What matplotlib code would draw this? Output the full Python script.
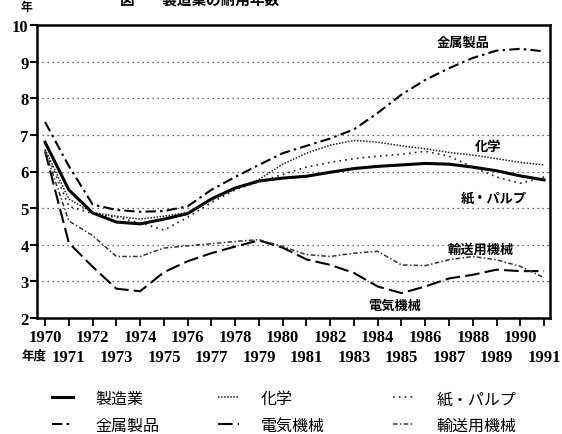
import matplotlib
matplotlib.use("Agg")
import matplotlib.pyplot as plt
from matplotlib.lines import Line2D
from matplotlib.ticker import FixedLocator, FixedFormatter

plt.rcParams['font.family'] = ['Noto Sans CJK JP', 'DejaVu Sans']

years = list(range(1970, 1992))
seizo = [6.8, 5.5, 4.87, 4.62, 4.57, 4.7, 4.85, 5.25, 5.55, 5.74, 5.82, 5.87, 5.98, 6.08, 6.14, 6.18, 6.22, 6.2, 6.12, 6.02, 5.88, 5.77]
kagaku = [6.6, 5.25, 4.88, 4.78, 4.7, 4.78, 4.88, 5.22, 5.52, 5.78, 6.2, 6.5, 6.72, 6.85, 6.8, 6.7, 6.62, 6.52, 6.45, 6.35, 6.25, 6.18]
kami = [6.6, 5.05, 4.85, 4.75, 4.6, 4.4, 4.75, 5.15, 5.5, 5.72, 5.92, 6.12, 6.25, 6.35, 6.42, 6.47, 6.55, 6.42, 6.12, 5.85, 5.68, 5.85]
kinzoku = [7.35, 6.15, 5.1, 4.95, 4.9, 4.92, 5.05, 5.5, 5.85, 6.18, 6.5, 6.7, 6.9, 7.15, 7.6, 8.1, 8.5, 8.82, 9.1, 9.3, 9.35, 9.28]
denki = [6.55, 4.05, 3.4, 2.8, 2.73, 3.25, 3.55, 3.77, 3.95, 4.12, 3.92, 3.6, 3.45, 3.23, 2.86, 2.68, 2.86, 3.08, 3.18, 3.32, 3.28, 3.28]
yuso = [6.55, 4.65, 4.25, 3.68, 3.68, 3.91, 3.97, 4.03, 4.09, 4.14, 3.95, 3.73, 3.68, 3.77, 3.82, 3.45, 3.43, 3.59, 3.68, 3.59, 3.41, 3.1]

names = ['製造業', '化学', '紙・パルプ', '金属製品', '電気機械', '輸送用機械']
series = [seizo, kagaku, kami, kinzoku, denki, yuso]
styles = [
    dict(color='black', lw=2.2, ls='-'),
    dict(color='#222222', lw=1.1, ls=(0, (1, 1))),
    dict(color='#222222', lw=1.2, ls=(0, (1, 2.5))),
    dict(color='black', lw=1.5, ls=(0, (5, 2, 1.2, 2))),
    dict(color='black', lw=1.5, ls=(0, (7, 2.5))),
    dict(color='#333333', lw=1.1, ls=(0, (3, 1.5, 1, 1.5))),
]

inline_labels = ['金属製品', '化学', '紙・パルプ', '輸送用機械', '電気機械']
inline_x = [1987.6, 1988.65, 1988.9, 1988.35, 1984.7]
inline_y = [9.55, 6.7, 5.3, 3.9, 2.36]

W, H = 562, 435
fig = plt.figure(figsize=(W / 100, H / 100), dpi=100)
ax = fig.add_axes([37 / W, 1 - 319 / H, (550 - 37) / W, (319 - 26) / H])

for s, st in zip(series, styles):
    ax.plot(years, s, **st)

ax.set_xlim(1969.66, 1991.25)
ax.set_ylim(2, 10)

for g in range(3, 10):
    ax.axhline(g, color='#333333', lw=0.9, ls=(0, (1, 3)), zorder=0)

for sp in ax.spines.values():
    sp.set_linewidth(1.8)

numfam = ['Liberation Serif', 'DejaVu Serif']

ax.set_yticks(range(2, 11))
ax.set_yticklabels([str(v) for v in range(2, 11)], family=numfam, weight='bold', size=12)
ax.tick_params(axis='y', direction='out', length=5, width=1.5, pad=1)

even = [y for y in years if y % 2 == 0]
odd = [y for y in years if y % 2 == 1]
ax.xaxis.set_major_locator(FixedLocator(even))
ax.xaxis.set_major_formatter(FixedFormatter([str(y) for y in even]))
ax.xaxis.set_minor_locator(FixedLocator(odd))
ax.xaxis.set_minor_formatter(FixedFormatter([str(y) for y in odd]))
ax.tick_params(axis='x', which='both', direction='out', length=6, width=1.3)
ax.tick_params(axis='x', which='major', pad=2)
ax.tick_params(axis='x', which='minor', pad=16)
for lab in ax.get_xticklabels(which='both'):
    lab.set_fontfamily(numfam)
    lab.set_fontweight('bold')
    lab.set_fontsize(12)

for t, x, y in zip(inline_labels, inline_x, inline_y):
    ax.text(x, y, t, ha='center', va='center', fontsize=9.5, fontweight='bold')

fig.text(34 / W, 1 - 356 / H, '年度', ha='center', va='center', fontsize=9, fontweight='bold')
fig.text(26 / W, 1 - 7 / H, '年', ha='center', va='center', fontsize=8.5, fontweight='bold')
fig.text(200 / W, 1 - 0 / H, '図  ―  製造業の耐用年数', ha='center', va='center', fontsize=10.5, fontweight='bold')

# legend: three columns, two rows each
cols = [[0, 3], [1, 4], [2, 5]]
col_x = [52, 218, 393]
for c, xpix in zip(cols, col_x):
    handles = [Line2D([], [], **styles[i]) for i in c]
    labels = [names[i] for i in c]
    fig.legend(handles, labels, loc='upper left', bbox_to_anchor=(xpix / W, 1 - 391 / H),
               frameon=False, prop=dict(size=11.5), handlelength=1.3, handletextpad=1.4,
               labelspacing=0.6, borderpad=0, borderaxespad=0)

fig.savefig('out.png', dpi=100)
